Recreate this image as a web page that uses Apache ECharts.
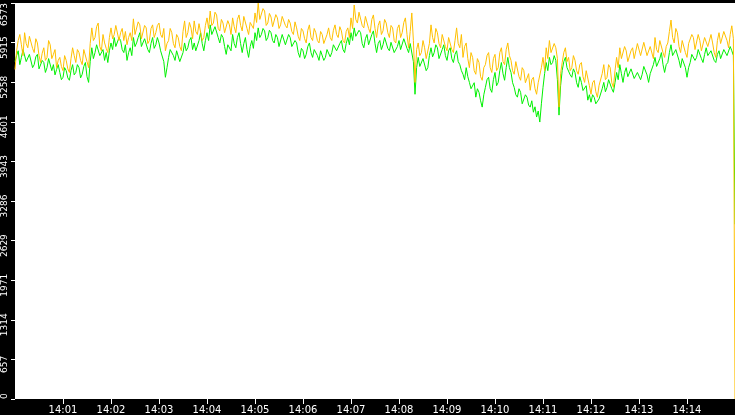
<!DOCTYPE html>
<html>
<head>
<meta charset="utf-8">
<script src="https://cdn.jsdelivr.net/npm/echarts@6/dist/echarts.min.js"></script>
<style>
html,body{margin:0;padding:0;background:#000;}
#chart{width:735px;height:415px;}
</style>
</head>
<body>
<div id="chart"></div>
<script>
const stepSeconds = 2;
const totalSeconds = 900;
const xTickMinutes = [1,2,3,4,5,6,7,8,9,10,11,12,13,14];
const xTickLabels = ['14:01','14:02','14:03','14:04','14:05','14:06','14:07','14:08','14:09','14:10','14:11','14:12','14:13','14:14'];
const yTickValues = [0,657,1314,1971,2629,3286,3943,4601,5258,5915,6573];

const orangeValues = [
5470,5780,5950,6050,5880,5700,6080,5900,5830,6020,6000,5820,5750,5980,5910,5700,5585,5740,5830,5620,
5670,5950,5880,5650,5720,5800,5500,5620,5670,5520,5450,5700,5620,5480,5420,5650,5830,5700,5585,5800,
5750,5620,5550,5800,5780,5600,5500,5900,6160,5950,6000,6180,6240,5850,5780,6050,5910,5820,5750,6000,
6160,5980,6050,6200,6180,5950,6080,6150,5950,6100,5880,6000,6080,5950,6310,6050,6080,6260,6210,5980,
6000,6200,6160,5900,5950,6150,6210,6000,6080,6200,6240,6050,6000,6150,5780,5900,5950,6150,6080,5900,
5830,6050,6000,5850,5780,6100,6276,6000,6080,6250,6160,5980,6276,6100,6050,6230,6210,5950,6000,6200,
6326,6150,6440,6200,6240,6420,6375,6150,6110,6300,6240,6080,6050,6280,6210,6050,6326,6180,6080,6300,
6375,6200,6110,6350,6326,6150,6050,6250,6276,6150,6408,6250,6570,6300,6326,6480,6440,6200,6240,6400,
6340,6180,6160,6380,6326,6150,6210,6350,6375,6200,6160,6300,6240,6100,6050,6260,6160,6020,5950,6150,
6110,5980,5910,6120,6210,6000,5950,6150,6080,5950,5910,6100,6050,5900,5880,6050,6160,6000,5950,6120,
6210,6050,6000,6180,6110,5950,5910,6100,6160,6000,6326,6150,6540,6300,6240,6420,6408,6200,6160,6350,
6326,6150,6080,6300,6375,6150,6000,6200,6276,6050,6110,6300,6240,6080,6000,6200,6160,5950,5910,6150,
6210,6000,6080,6250,6326,6050,5830,6100,6408,5950,5255,5800,5910,5700,5750,5950,5830,5650,5670,5900,
6210,6000,5910,6150,6080,5900,5830,6050,6030,5850,5780,6000,6000,5800,5750,5950,6160,5900,5830,6050,
5670,5850,5910,5650,5500,5750,5670,5450,5390,5650,5585,5350,5290,5500,5550,5700,5750,5500,5420,5650,
5720,5450,5500,5750,5830,5600,5550,5800,5910,5700,5620,5450,5390,5600,5585,5350,5290,5500,5453,5250,
5220,5400,5124,5300,5340,5150,5058,5250,5255,5500,5670,5450,5830,5650,5950,5750,5750,5900,5830,5650,
4844,5400,5585,5750,5830,5600,5670,5450,5500,5700,5620,5450,5390,5550,5585,5350,5255,5450,5420,5200,
5058,5250,5288,5100,5008,5200,5173,5400,5550,5300,5338,5550,5500,5250,5173,5450,5670,5500,5830,5650,
5620,5850,5780,5600,5585,5780,5830,5650,5670,5900,5880,5700,5720,5920,5910,5700,5670,5850,5830,5650,
6000,5800,5750,5950,5950,5750,5670,5850,5910,6100,6290,6000,5910,6150,6080,5850,5750,5950,5950,5750,
5670,5900,5880,6050,6000,5800,5830,6050,5950,5780,5750,6000,6000,5850,5830,6050,5910,5750,5670,5950,
6080,5900,5910,6100,6110,5950,5830,6050,6195,5980,0
];
const greenValues = [
5600,5700,5780,5550,5670,5800,5830,5600,5620,5720,5750,5500,5550,5680,5720,5480,5450,5620,5585,5420,
5500,5650,5670,5450,5550,5380,5470,5550,5420,5300,5340,5500,5450,5330,5290,5450,5550,5380,5420,5550,
5500,5330,5390,5520,5585,5350,5255,5600,5830,5650,5750,5880,5910,5700,5670,5800,5620,5750,5585,5780,
5910,5800,6000,5850,5880,6000,5950,5800,5750,5880,5620,5750,5830,5700,6000,5850,5910,6000,6080,5850,
5830,5980,5950,5800,5750,5900,6000,5820,5880,6000,5910,5780,5750,5600,5340,5500,5670,5800,5830,5700,
5620,5780,5750,5600,5585,5750,5910,5780,5830,5950,6000,5800,5910,5780,5750,5950,6080,5900,5780,5950,
6080,5950,6210,6050,6080,6180,6160,6000,5910,6050,6000,5850,5720,5880,5910,5780,6050,5900,5830,6000,
6080,5900,5750,5900,6000,5800,5670,5850,5950,5820,6080,5950,6160,6000,6050,6150,6110,5950,6000,6120,
6080,5950,5910,6050,6000,5850,5880,6050,6030,5880,5910,6050,6000,5850,5830,5950,5910,5750,5670,5820,
5780,5650,5720,5850,5910,5750,5670,5800,5830,5700,5620,5780,5750,5620,5670,5800,5830,5680,5750,5880,
5910,5780,5780,5900,5950,5800,5750,5900,6000,5880,6080,5950,6160,6020,6000,6120,6080,5900,5830,5980,
6050,5880,5910,6050,6110,5900,5750,5900,5950,5800,5880,6000,6000,5820,5780,5920,5910,5750,5720,5850,
5950,5800,5830,5980,6000,5820,5750,5900,5910,5600,5058,5500,5670,5520,5550,5650,5620,5450,5500,5700,
5830,5680,5750,5880,5830,5650,5670,5800,5880,5700,5620,5780,5830,5650,5585,5720,5780,5600,5550,5450,
5390,5300,5500,5350,5255,5150,5124,5250,5010,5150,5090,4950,4845,5050,5173,5300,5340,5150,5090,5300,
5420,5200,5255,5450,5585,5400,5290,5500,5670,5500,5420,5250,5173,5050,5010,5150,5090,4900,4925,5050,
5010,4880,4845,4950,4760,4850,4680,4780,4597,4900,5173,5400,5585,5450,5670,5550,5585,5700,5620,5300,
4712,5200,5453,5600,5670,5500,5500,5380,5340,5480,5420,5250,5173,5350,5255,5120,5091,5200,4960,5050,
4926,5050,5008,4900,4926,4980,5008,5150,5255,5100,5173,5300,5288,5150,5091,5250,5420,5300,5550,5400,
5255,5420,5500,5350,5338,5480,5500,5320,5288,5420,5450,5300,5390,5520,5550,5380,5255,5400,5420,5550,
5670,5520,5500,5650,5750,5550,5420,5550,5585,5750,5880,5700,5670,5800,5780,5620,5500,5650,5670,5500,
5340,5500,5585,5720,5750,5620,5670,5800,5780,5650,5585,5720,5830,5700,5670,5780,5750,5620,5585,5720,
5780,5650,5670,5800,5830,5700,5720,5850,5780,5700,2900
];

function toPairs(values){
  return values.map((v,i)=>[i*stepSeconds, v]);
}

const yMax = yTickValues[yTickValues.length-1];
const chart = echarts.init(document.getElementById('chart'), null, {renderer:'canvas'});
chart.setOption({
  backgroundColor:'#000',
  animation:false,
  grid:{left:15,right:0,top:0,bottom:16,show:true,backgroundColor:'#fff',borderWidth:0},
  xAxis:{
    type:'value',min:0,max:totalSeconds,
    axisLine:{show:false},
    splitLine:{show:false},
    axisTick:{show:true,length:5,lineStyle:{color:'#fff',width:1},customValues:xTickMinutes.map(m=>m*60)},
    axisLabel:{color:'#fff',fontSize:10,fontFamily:'DejaVu Sans',margin:6,
      customValues:xTickMinutes.map(m=>m*60),
      formatter:(v)=>xTickLabels[xTickMinutes.indexOf(Math.round(v/60))] || ''}
  },
  yAxis:{
    type:'value',min:0,max:yMax,
    axisLine:{show:false},
    splitLine:{show:false},
    axisTick:{show:true,length:4,lineStyle:{color:'#fff',width:1},customValues:yTickValues},
    axisLabel:{color:'#fff',fontSize:9,fontFamily:'DejaVu Sans',margin:6,rotate:90,
      customValues:yTickValues,alignMinLabel:'left',alignMaxLabel:'right',
      formatter:(v)=>(v===yMax||v===0) ? '{e|'+v+'}' : '{n|'+v+'}',
      rich:{
        e:{color:'#fff',fontSize:9,fontFamily:'DejaVu Sans'},
        n:{color:'#fff',fontSize:9,fontFamily:'DejaVu Sans',padding:[0,10,0,0]}
      }}
  },
  series:[
    {name:'green',type:'line',data:toPairs(greenValues),showSymbol:false,sampling:'none',
      lineStyle:{color:'#00F000',width:1},itemStyle:{color:'#00F000'}},
    {name:'orange',type:'line',data:toPairs(orangeValues),showSymbol:false,sampling:'none',
      lineStyle:{color:'#FFC000',width:1},itemStyle:{color:'#FFC000'}}
  ]
});
</script>
</body>
</html>
